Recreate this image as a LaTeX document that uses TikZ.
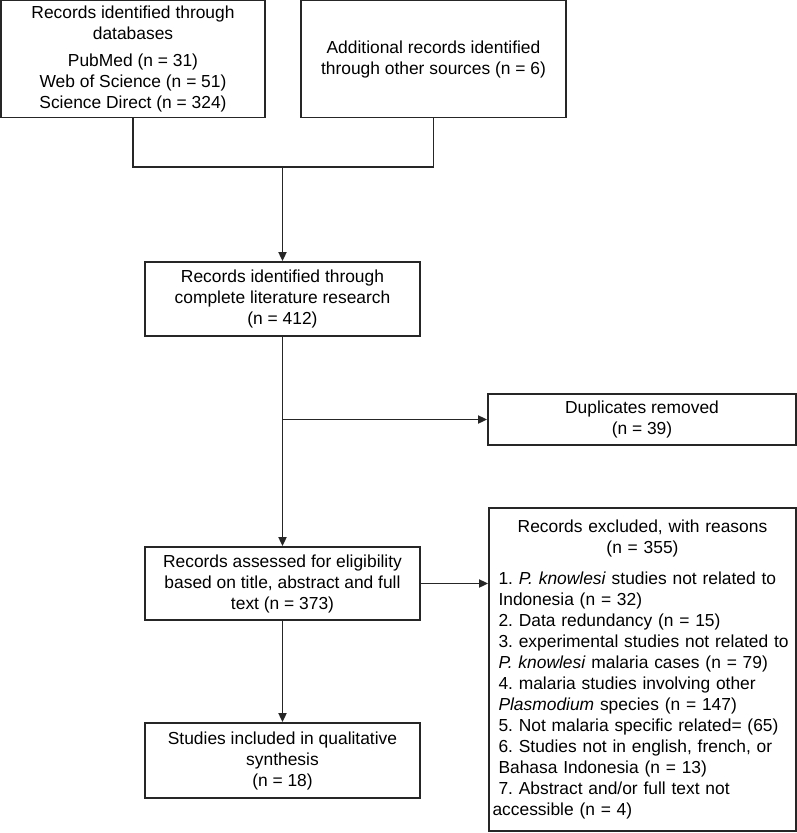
\documentclass[tikz,border=0pt]{standalone}
\usepackage{fontspec}
\setmainfont{Liberation Sans}
\frenchspacing
\usetikzlibrary{arrows.meta}
\tikzset{
  box/.style={draw=black!85, line width=1.8pt, inner sep=0pt, align=center,
    font=\fontsize{17.4}{21}\selectfont, text=black},
  conn/.style={draw=black!85, line width=1.8pt},
  arr/.style={conn, -{Triangle[length=9pt,width=8pt]}}
}
\begin{document}
\begin{tikzpicture}[x=1pt,y=1pt]
\useasboundingbox (0,0) rectangle (797,-833);
\node[box, minimum width=264pt, minimum height=117pt] (b1) at (133,-59)
  {Records identified through\\databases\\[6pt]PubMed (n = 31)\\Web of Science (n = 51)\\Science Direct (n = 324)};
\node[box, minimum width=265pt, minimum height=117pt] (b2) at (433.5,-59)
  {Additional records identified\\through other sources (n = 6)};
\node[box, minimum width=275pt, minimum height=74pt] (b3) at (282.5,-299)
  {Records identified through\\complete literature research\\(n = 412)};
\node[box, minimum width=308pt, minimum height=51pt] (dup) at (642,-419.5)
  {Duplicates removed\\(n = 39)};
\node[box, minimum width=275pt, minimum height=73pt] (b4) at (282.5,-583.5)
  {Records assessed for eligibility\\based on title, abstract and full\\text (n = 373)};
\node[box, minimum width=307pt, minimum height=323pt, text width=300pt, align=left] (ex) at (642.5,-669.5)
  {{\centering Records excluded, with reasons\\(n = 355)\par}\vspace{10pt}%
   \leftskip=6pt
   1. \textit{P. knowlesi} studies not related to\\
   Indonesia (n = 32)\\
   2. Data redundancy (n = 15)\\
   3. experimental studies not related to\\
   \textit{P. knowlesi} malaria cases (n = 79)\\
   4. malaria studies involving other\\
   \textit{Plasmodium} species (n = 147)\\
   5. Not malaria specific related= (65)\\
   6. Studies not in english, french, or\\
   Bahasa Indonesia (n = 13)\\
   7. Abstract and/or full text not\\
   accessible (n = 4)};
\node[box, minimum width=275pt, minimum height=75pt] (b5) at (282.5,-760.5)
  {Studies included in qualitative\\synthesis\\(n = 18)};
\coordinate (j) at (b3.north |- 0,-167);
\coordinate (k) at (b3.south |- dup.west);
\draw[conn] (b1.south) |- (j) -| (b2.south);
\draw[arr] (j) -- (b3.north);
\draw[arr] (b3.south) -- (b4.north);
\draw[arr] (k) -- (dup.west);
\draw[arr] (b4.east) -- (ex.west |- b4.east);
\draw[arr] (b4.south) -- (b5.north);
\end{tikzpicture}
\end{document}
